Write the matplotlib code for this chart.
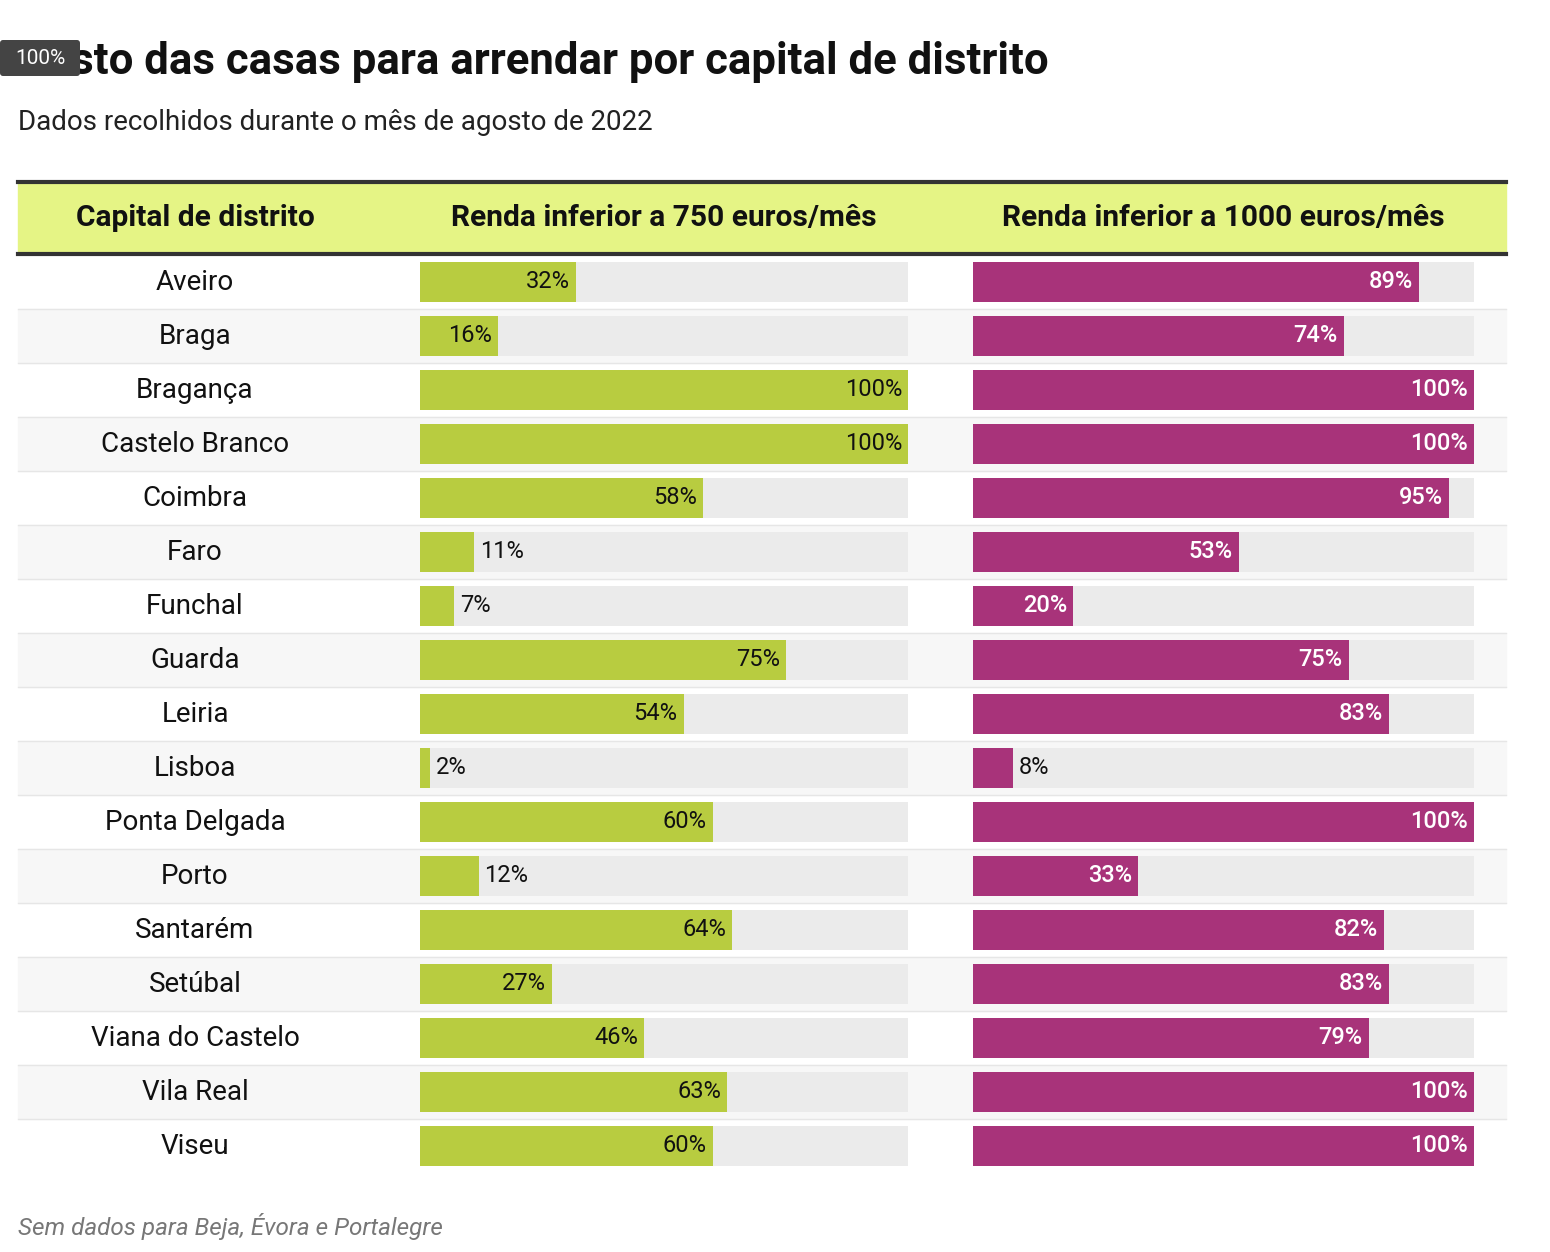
import matplotlib
matplotlib.use("Agg")
import matplotlib.pyplot as plt
from matplotlib.patches import Rectangle, FancyBboxPatch

plt.rcParams['font.family'] = ['Roboto', 'DejaVu Sans']

cities = ["Aveiro", "Braga", "Bragança", "Castelo Branco", "Coimbra", "Faro", "Funchal",
          "Guarda", "Leiria", "Lisboa", "Ponta Delgada", "Porto", "Santarém", "Setúbal",
          "Viana do Castelo", "Vila Real", "Viseu"]
below750 = [32, 16, 100, 100, 58, 11, 7, 75, 54, 2, 60, 12, 64, 27, 46, 63, 60]
below1000 = [89, 74, 100, 100, 95, 53, 20, 75, 83, 8, 100, 33, 82, 83, 79, 100, 100]
headers = ["Capital de distrito", "Renda inferior a 750 euros/mês", "Renda inferior a 1000 euros/mês"]

W, H = 1550, 1252
fig = plt.figure(figsize=(W/100, H/100), dpi=100)
ax = fig.add_axes([0, 0, 1, 1])
ax.set_xlim(0, W); ax.set_ylim(H, 0); ax.axis('off')

ax.text(18, 62, "Custo das casas para arrendar por capital de distrito", fontsize=31.5,
        fontweight='bold', va='center', ha='left', color='#111')
ax.text(18, 123, "Dados recolhidos durante o mês de agosto de 2022", fontsize=20,
        va='center', ha='left', color='#222')

ax.add_patch(Rectangle((18, 182), 1488, 72, color='#e5f485', zorder=0))
ax.plot([18, 1506], [182, 182], color='#333', lw=3)
ax.plot([18, 1506], [254, 254], color='#333', lw=3)
for x, h in zip([195, 664, 1223], headers):
    ax.text(x, 218, h, fontsize=21.5, fontweight='bold', ha='center', va='center', color='#111')

G0, GW = 420, 488
P0, PW = 973, 501
rowh = 54
y0 = 282
ys = [y0 + i*rowh for i in range(len(cities))]
for i, y in enumerate(ys):
    if i % 2 == 1:
        ax.add_patch(Rectangle((18, y-27), 1488, rowh, color='#f7f7f7', zorder=0))
    if i > 0:
        ax.plot([18, 1506], [y-27, y-27], color='#e6e6e6', lw=1, zorder=0.5)
    ax.text(195, y, cities[i], fontsize=20, ha='center', va='center', color='#111')

ax.barh(ys, [GW]*len(ys), left=G0, height=40, color='#ebebeb', zorder=1)
ax.barh(ys, [v/100*GW for v in below750], left=G0, height=40, color='#b8cc40', zorder=2)
ax.barh(ys, [PW]*len(ys), left=P0, height=40, color='#ebebeb', zorder=1)
ax.barh(ys, [v/100*PW for v in below1000], left=P0, height=40, color='#a8337a', zorder=2)

for y, g, p in zip(ys, below750, below1000):
    ge = G0 + g/100*GW
    if g > 12:
        ax.text(ge-6, y, f"{g}%", fontsize=17, ha='right', va='center', color='#111', zorder=3)
    else:
        ax.text(ge+6, y, f"{g}%", fontsize=17, ha='left', va='center', color='#111', zorder=3)
    pe = P0 + p/100*PW
    if p > 10:
        ax.text(pe-6, y, f"{p}%", fontsize=17, fontweight='medium', ha='right', va='center',
                color='white', zorder=3)
    else:
        ax.text(pe+6, y, f"{p}%", fontsize=17, ha='left', va='center', color='#111', zorder=3)

ax.text(18, 1226, "Sem dados para Beja, Évora e Portalegre", fontsize=17.5, style='italic',
        ha='left', va='center', color='#777')

ax.add_patch(FancyBboxPatch((0, 40), 80, 36, boxstyle="round,pad=0,rounding_size=3",
                            facecolor='#444', edgecolor='none', zorder=5))
ax.text(40, 58, "100%", fontsize=15, ha='center', va='center', color='white', zorder=6)

fig.savefig("out.png", dpi=100)
